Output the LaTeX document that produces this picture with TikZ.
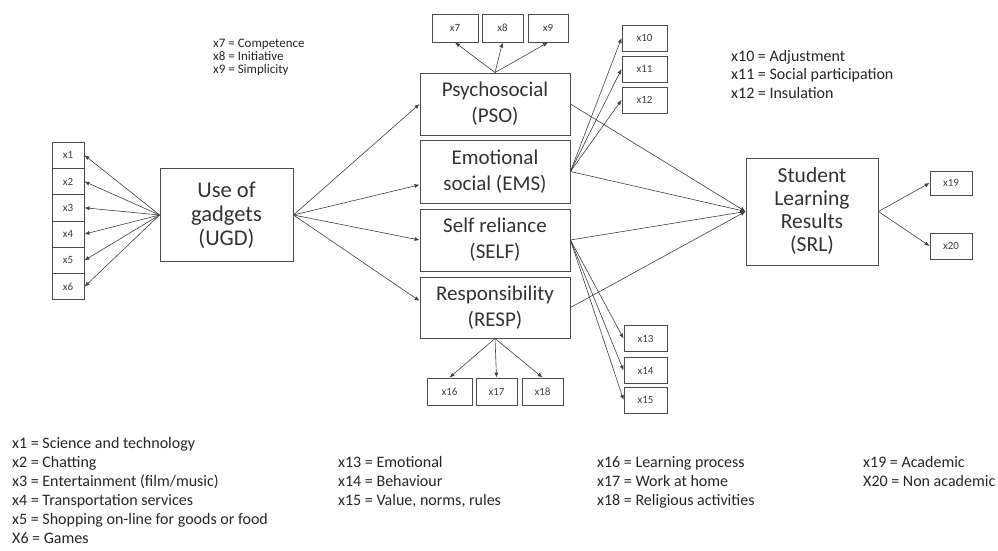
\documentclass[tikz,border=0pt]{standalone}
\usepackage{fontspec}
\setmainfont{Carlito}
\usetikzlibrary{arrows.meta}

\begin{document}
\begin{tikzpicture}[x=1pt, y=-1pt,
    box/.style={draw=black!70, line width=0.9pt, fill=white, align=center, inner sep=0pt,
                font=\fontsize{21}{26}\selectfont, text=black!80},
    item/.style={draw=black!70, line width=0.9pt, fill=white, inner sep=0pt,
                 font=\fontsize{11}{12}\selectfont, text=black!75},
    note/.style={anchor=north west, align=left, inner sep=0pt, text=black!85},
    link/.style={draw=black!75, line width=0.6pt, -{Latex[length=5pt,width=4pt]}}]
    \useasboundingbox (0,0) rectangle (998,551);

    \node[box, minimum width=133pt, minimum height=93pt, font=\fontsize{22.5}{24}\selectfont]
      (ugd) at (226.5,215) {Use of\\gadgets\\(UGD)};
    \node[box, minimum width=150pt, minimum height=62pt] (pso) at (495,104) {Psychosocial\\(PSO)};
    \node[box, minimum width=150pt, minimum height=63pt] (ems) at (495,171.5) {Emotional\\social (EMS)};
    \node[box, minimum width=150pt, minimum height=62pt] (self) at (495,240) {Self reliance\\(SELF)};
    \node[box, minimum width=150pt, minimum height=61pt] (resp) at (495,307.5) {Responsibility\\(RESP)};
    \node[box, minimum width=132pt, minimum height=107pt, font=\fontsize{21.5}{23}\selectfont]
      (srl) at (812,211.5) {Student\\Learning\\Results\\(SRL)};

    \foreach \i in {1,...,6}
      \node[item, minimum width=32pt, minimum height=26.3pt] (x\i) at (68,{155.2+26.3*(\i-1)}) {x\i};
    \foreach \i/\x/\w in {7/455/46, 8/502.5/41, 9/548/40}
      \node[item, minimum width=\w pt, minimum height=28pt] (x\i) at (\x,28) {x\i};
    \foreach \i/\y in {10/38, 11/69, 12/100}
      \node[item, minimum width=45pt, minimum height=26pt] (x\i) at (644.5,\y) {x\i};
    \foreach \i/\y in {13/338.5, 14/370.5, 15/400}
      \node[item, minimum width=43pt, minimum height=26pt] (x\i) at (645.5,\y) {x\i};
    \foreach \i/\x/\w in {16/449.5/45, 17/496.5/41, 18/542.5/41}
      \node[item, minimum width=\w pt, minimum height=27pt] (x\i) at (\x,391.5) {x\i};
    \node[item, minimum width=42pt, minimum height=24pt] (x19) at (951,183) {x19};
    \node[item, minimum width=42pt, minimum height=26pt] (x20) at (951,246) {x20};

    \foreach \i in {1,...,6}
      \draw[link] (ugd.west) -- (x\i.east);
    \foreach \n/\a in {pso/west, ems/190, self/west, resp/175}
      \draw[link] (ugd.east) -- (\n.\a);
    \foreach \i in {7,8,9}
      \draw[link] (pso.north) -- (x\i.south);
    \foreach \i in {10,11,12}
      \draw[link] (ems.east) -- (x\i.west);
    \foreach \i in {13,14,15}
      \draw[link] (self.east) -- (x\i.west);
    \foreach \i in {16,17,18}
      \draw[link] (resp.south) -- (x\i.north);
    \foreach \n in {pso,ems,self,resp}
      \draw[link] (\n.east) -- (srl.west);
    \foreach \i in {19,20}
      \draw[link] (srl.east) -- (x\i.west);

    \node[note, font=\fontsize{13}{13}\selectfont] (leg7) at (213,39)
      {x7 = Competence\\x8 = Initiative\\x9 = Simplicity};
    \node[note, font=\fontsize{16}{18.5}\selectfont] (leg10) at (731,50)
      {x10 = Adjustment\\x11 = Social participation\\x12 = Insulation};
    \node[note, font=\fontsize{16}{19}\selectfont] (leg1) at (12,437)
      {x1 = Science and technology\\x2 = Chatting\\x3 = Entertainment (film/music)\\%
       x4 = Transportation services\\x5 = Shopping on-line for goods or food\\X6 = Games};
    \node[note, font=\fontsize{16}{19}\selectfont] (leg13) at (338,456)
      {x13 = Emotional\\x14 = Behaviour\\x15 = Value, norms, rules};
    \node[note, font=\fontsize{16}{19}\selectfont] (leg16) at (597,456)
      {x16 = Learning process\\x17 = Work at home\\x18 = Religious activities};
    \node[note, font=\fontsize{16}{19}\selectfont] (leg19) at (863,456)
      {x19 = Academic\\X20 = Non academic};
  \end{tikzpicture}
\end{document}
